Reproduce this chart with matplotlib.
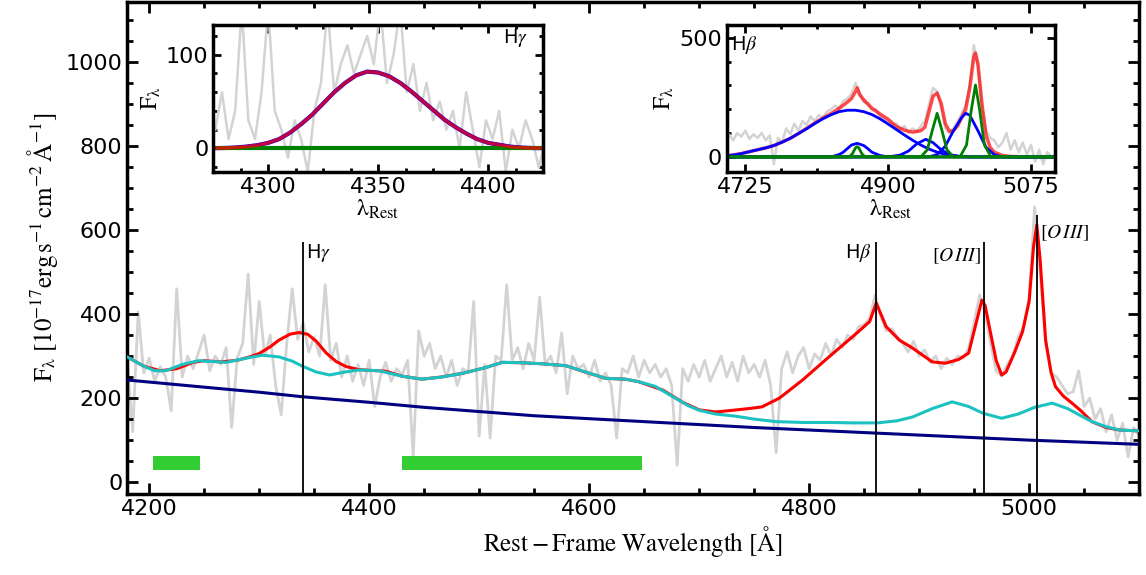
import numpy as np
import matplotlib
matplotlib.use("Agg")
import matplotlib.pyplot as plt
from matplotlib.ticker import MultipleLocator

plt.rcParams['mathtext.fontset'] = 'stix'

# ---- main spectrum (gray), 5 A steps from 4180 to 5100 ----
wave_obs = np.arange(4180, 5101, 5)
flux_obs = [290, 120, 405, 260, 295, 240, 275, 250, 170, 460,
            250, 300, 270, 310, 350, 265, 300, 280, 320, 130,
            295, 330, 495, 280, 430, 300, 350, 230, 160, 330,
            460, 340, 380, 310, 345, 300, 470, 290, 330, 250,
            300, 240, 280, 230, 290, 180, 250, 285, 240, 270,
            255, 290, 60, 360, 300, 330, 270, 300, 250, 290,
            230, 270, 260, 430, 110, 280, 105, 300, 290, 470,
            290, 320, 270, 330, 290, 440, 280, 300, 260, 355,
            210, 300, 270, 280, 250, 290, 240, 260, 230, 105,
            270, 260, 300, 250, 290, 260, 280, 250, 270, 230,
            40, 270, 240, 280, 250, 290, 240, 270, 300, 250,
            285, 240, 300, 260, 280, 250, 290, 230, 70, 270,
            310, 260, 300, 320, 270, 305, 290, 330, 300, 340,
            320, 350, 340, 370, 375, 390, 445, 395, 360, 365,
            345, 330, 310, 335, 300, 315, 285, 300, 270, 295,
            280, 300, 295, 320, 380, 445, 400, 330, 265, 252,
            280, 300, 345, 370, 440, 655, 500, 330, 260, 250,
            230, 210, 215, 265, 180, 200, 150, 175, 120, 160,
            100, 140, 60, 130, 110]

# total model (red)
wave_tot = [4180, 4195, 4210, 4225, 4240, 4250, 4265, 4280, 4290, 4300, 4310, 4318, 4328, 4336,
            4344, 4352, 4361, 4370, 4379, 4390, 4400, 4415, 4430, 4448, 4465, 4485, 4505, 4521,
            4540, 4555, 4579, 4595, 4615, 4633, 4645, 4667, 4685, 4700, 4715, 4727, 4745, 4757,
            4773, 4794, 4818, 4843, 4855, 4861, 4866, 4870, 4882, 4894, 4912, 4924, 4936, 4945,
            4951, 4957, 4960, 4965, 4970, 4975, 4979, 4987, 4994, 5000, 5004, 5007, 5010, 5015,
            5020, 5024, 5031, 5039, 5047, 5057, 5070, 5082, 5100]
flux_tot = [298, 276, 265, 270, 285, 289, 286, 290, 297, 306, 322, 338, 352, 356,
            352, 335, 307, 287, 275, 268, 266, 264, 252, 245, 250, 259, 272, 285,
            284, 282, 277, 263, 247, 245, 239, 219, 190, 172, 167, 170, 175, 179,
            200, 243, 298, 354, 382, 426, 395, 370, 338, 319, 286, 283, 292, 307,
            370, 433, 420, 354, 290, 255, 262, 310, 358, 430, 560, 612, 529, 338,
            260, 227, 205, 188, 170, 144, 130, 124, 122]

# continuum + FeII + host (cyan)
wave_cont = [4180, 4195, 4205, 4215, 4230, 4245, 4270, 4290, 4303, 4318, 4330, 4340, 4352, 4364,
             4378, 4391, 4409, 4430, 4448, 4466, 4485, 4505, 4521, 4540, 4555, 4579, 4597, 4615,
             4633, 4645, 4660, 4675, 4690, 4700, 4715, 4733, 4750, 4770, 4795, 4818, 4840, 4862,
             4880, 4894, 4912, 4930, 4945, 4958, 4975, 4990, 5005, 5021, 5035, 5047, 5057, 5070,
             5082, 5100]
flux_cont = [298, 276, 265, 265, 280, 289, 285, 296, 302, 298, 288, 275, 262, 255,
             262, 267, 265, 252, 245, 250, 259, 272, 285, 284, 282, 277, 262, 247,
             245, 239, 228, 205, 182, 171, 162, 157, 150, 144, 142, 142, 141, 141,
             146, 155, 175, 191, 180, 164, 152, 162, 178, 188, 175, 158, 144, 132,
             124, 122]

# power law (navy)
wave_pl = [4180, 4250, 4300, 4340, 4400, 4450, 4500, 4550, 4600, 4650, 4700, 4750, 4800,
           4850, 4900, 4950, 5000, 5050, 5100]
flux_pl = [243, 226, 214, 203, 190, 178, 168, 158, 151, 144, 137, 130, 124,
           118, 112, 106, 100, 95, 90]

# fitting windows (green bars)
win_lo = [4203, 4430]
win_hi = [4246, 4648]

# line markers
line_wave = [4340, 4861, 4959, 5007]
line_top = [572, 572, 572, 636]

# ---- inset Hgamma ----
wave_hg = np.arange(4276, 4427, 3)
flux_hg = [20, 60, 10, 40, 150, 30, 10, 60, 150, 40, 20, -10, 30, 10, -25, 40, 70, 150,
           60, 90, 110, 80, 100, 120, 90, 150, 70, 100, 150, 60, 90, 40, 70, 30, 50, 20,
           40, 0, 60, 20, -20, 30, 10, 40, -25, 20, 0, 30, 10, -20, 10]
wave_hg_fit = np.arange(4275, 4426, 5)
flux_hg_fit = [0.3, 0.5, 1, 2, 3.5, 6, 10, 17, 26, 36, 48, 60, 70, 78, 82, 81,
               77, 70, 61, 51, 41, 31, 23, 16, 10, 6, 4, 2, 1, 0.5, 0.3]

# ---- inset Hbeta + [OIII] ----
wave_hb = np.arange(4700, 5106, 5)
flux_hb = [80, 95, 70, 100, 85, 110, 75, 95, 80, 100, 70, 90, -30, 80, 60, 120, 95, 140,
           110, 150, 135, 170, 150, 175, 165, 190, 200, 215, 205, 235, 245, 265, 310, 270,
           230, 225, 195, 200, 170, 160, 150, 135, 140, 115, 130, 100, 120, 105, 130, 150,
           220, 290, 275, 200, 120, 100, 120, 150, 180, 220, 300, 470, 380, 200, 110, 80,
           70, 40, 60, 100, 30, 70, 20, 60, 10, 50, -20, 30, -30, 20, 0, 10]
wave_hb_tot = [4700, 4710, 4720, 4730, 4740, 4750, 4760, 4770, 4780, 4790, 4800, 4810, 4820,
               4830, 4840, 4850, 4855, 4860, 4862, 4865, 4870, 4880, 4890, 4900, 4910, 4920,
               4930, 4940, 4945, 4950, 4955, 4960, 4965, 4970, 4975, 4980, 4985, 4990, 4995,
               5000, 5005, 5007, 5010, 5015, 5020, 5025, 5030, 5040, 5050, 5060, 5080, 5105]
flux_hb_tot = [4, 8, 14, 22, 30, 38, 48, 62, 78, 98, 120, 142, 163,
               182, 204, 230, 245, 275, 290, 262, 240, 205, 180, 158, 128, 112,
               104, 110, 125, 190, 255, 268, 225, 140, 108, 110, 130, 165, 200,
               290, 420, 436, 390, 220, 90, 40, 20, 6, 2, 1, 0, 0]
wave_hb_br = [4700, 4710, 4720, 4730, 4740, 4750, 4760, 4770, 4780, 4790, 4800, 4810, 4820,
              4830, 4840, 4850, 4860, 4870, 4880, 4890, 4900, 4910, 4920, 4930, 4940, 4950,
              4960, 4970, 4980, 4990, 5000, 5105]
flux_hb_br = [4, 8, 14, 22, 30, 38, 48, 62, 78, 98, 118, 140, 160,
              177, 190, 196, 196, 190, 178, 160, 138, 115, 92, 70, 50, 33,
              20, 11, 5, 2, 0, 0]
wave_hb_in = [4700, 4830, 4840, 4845, 4850, 4855, 4862, 4870, 4875, 4880, 4890, 4900, 5105]
flux_hb_in = [0, 0, 10, 20, 35, 50, 57, 48, 35, 20, 6, 0, 0]
wave_o1_br = [4700, 4900, 4915, 4925, 4935, 4946, 4955, 4965, 4975, 4990, 5105]
flux_o1_br = [0, 0, 8, 25, 55, 74, 60, 30, 10, 0, 0]
wave_o2_br = [4700, 4950, 4960, 4970, 4980, 4990, 4995, 5000, 5010, 5020, 5030, 5040, 5105]
flux_o2_br = [0, 0, 10, 45, 110, 165, 183, 175, 110, 40, 10, 0, 0]
wave_hb_na = [4700, 4852, 4856, 4860, 4862, 4864, 4868, 4872, 5105]
flux_hb_na = [0, 0, 12, 38, 43, 38, 12, 0, 0]
wave_o1_na = [4700, 4940, 4948, 4954, 4960, 4966, 4972, 4980, 5105]
flux_o1_na = [0, 0, 30, 110, 183, 110, 30, 0, 0]
wave_o2_na = [4700, 4988, 4996, 5002, 5007, 5012, 5018, 5026, 5105]
flux_o2_na = [0, 0, 50, 200, 302, 200, 50, 0, 0]


def style_ax(ax, major, minor, ymaj, ymin, size, lw):
    ax.xaxis.set_major_locator(MultipleLocator(major))
    ax.xaxis.set_minor_locator(MultipleLocator(minor))
    ax.yaxis.set_major_locator(MultipleLocator(ymaj))
    ax.yaxis.set_minor_locator(MultipleLocator(ymin))
    ax.tick_params(which='both', direction='in', top=True, right=True, labelsize=16)
    ax.tick_params(which='major', length=size, width=lw)
    ax.tick_params(which='minor', length=size / 2, width=lw)
    for s in ax.spines.values():
        s.set_linewidth(lw + 0.5)


fig = plt.figure(figsize=(11.46, 5.75), dpi=100)
ax = fig.add_axes([0.111, 0.141, 0.883, 0.856])

ax.plot(wave_obs, flux_obs, color='#d3d3d3', lw=2, zorder=1)
ax.plot(wave_tot, flux_tot, color='red', lw=2.2, zorder=2)
ax.plot(wave_cont, flux_cont, color='#1cc2c2', lw=2.2, zorder=3)
ax.plot(wave_pl, flux_pl, color='navy', lw=2.2, zorder=3)
for lo, hi in zip(win_lo, win_hi):
    ax.fill_between([lo, hi], 29, 62, color='limegreen', lw=0, zorder=4)
for w, t in zip(line_wave, line_top):
    ax.vlines(w, -30, t, color='k', lw=1.3, zorder=5)

ax.text(4343, 545, r'H$\gamma$', fontsize=14, ha='left', va='center')
ax.text(4857, 545, r'H$\beta$', fontsize=14, ha='right', va='center')
ax.text(4956, 537, r'$[O\,III]$', fontsize=14, ha='right', va='center')
ax.text(5010, 593, r'$[O\,III]$', fontsize=14, ha='left', va='center')

ax.set_xlim(4180, 5100)
ax.set_ylim(-28, 1143)
style_ax(ax, 200, 50, 200, 50, 8, 2)
ax.set_xlabel(r'$\mathrm{Rest-Frame\ Wavelength\ [\AA]}$', fontsize=18)
ax.set_ylabel(r'$\mathrm{F_{\lambda}\ [10^{-17}erg\,s^{-1}\,cm^{-2}\,\AA^{-1}]}$', fontsize=18)

# inset Hgamma
ax1 = fig.add_axes([0.186, 0.701, 0.288, 0.256])
ax1.plot(wave_hg, flux_hg, color='#d3d3d3', lw=1.8)
ax1.plot(wave_hg_fit, flux_hg_fit, color='blue', lw=3)
ax1.axhline(0, color='green', lw=3)
ax1.plot(wave_hg_fit, flux_hg_fit, color='red', lw=2.5, alpha=0.75)
ax1.text(4418, 118, r'H$\gamma$', fontsize=14, ha='right', va='center')
ax1.set_xlim(4275, 4425)
ax1.set_ylim(-25, 132)
style_ax(ax1, 50, 12.5, 100, 20, 6, 2)
ax1.set_xlabel(r'$\mathrm{\lambda_{Rest}}$', fontsize=17, labelpad=0)
ax1.set_ylabel(r'$\mathrm{F_{\lambda}}$', fontsize=17, labelpad=2)

# inset Hbeta
ax2 = fig.add_axes([0.634, 0.701, 0.287, 0.256])
ax2.plot(wave_hb, flux_hb, color='#d3d3d3', lw=1.8)
ax2.plot(wave_hb_tot, flux_hb_tot, color='red', lw=2.5, alpha=0.7)
for w, f in [(wave_hb_br, flux_hb_br), (wave_hb_in, flux_hb_in),
             (wave_o1_br, flux_o1_br), (wave_o2_br, flux_o2_br)]:
    ax2.plot(w, f, color='blue', lw=2)
for w, f in [(wave_hb_na, flux_hb_na), (wave_o1_na, flux_o1_na), (wave_o2_na, flux_o2_na)]:
    ax2.plot(w, f, color='green', lw=2)
ax2.text(4708, 470, r'H$\beta$', fontsize=14, ha='left', va='center')
ax2.set_xlim(4702, 5105)
ax2.set_ylim(-63, 555)
style_ax(ax2, 175, 43.75, 500, 100, 6, 2)
ax2.set_xlabel(r'$\mathrm{\lambda_{Rest}}$', fontsize=17, labelpad=0)
ax2.set_ylabel(r'$\mathrm{F_{\lambda}}$', fontsize=17, labelpad=2)

fig.savefig('out.png', dpi=100)
